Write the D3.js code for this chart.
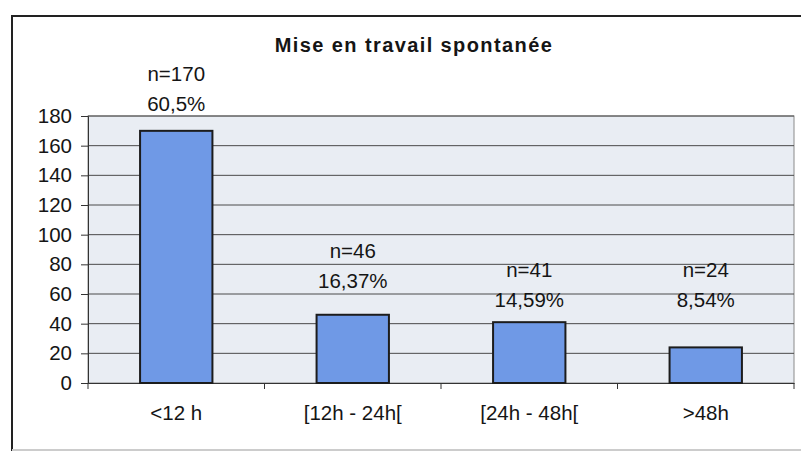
<!DOCTYPE html>
<html>
<head>
<meta charset="utf-8">
<script src="https://cdn.jsdelivr.net/npm/d3@7"></script>
<style>
  body { margin: 0; background: #fff; }
  text { font-family: "Liberation Sans", Arial, sans-serif; fill: #151515; }
</style>
</head>
<body>
<div id="chart"></div>
<script>
var categories = ["<12 h", "[12h - 24h[", "[24h - 48h[", ">48h"];
var counts = [170, 46, 41, 24];
var percents = ["60,5%", "16,37%", "14,59%", "8,54%"];
var yTicks = [0, 20, 40, 60, 80, 100, 120, 140, 160, 180];

// where each label pair sits, in axis units (hand placed in the original)
var labelLevels = [188, 69, 56, 56];

var width = 801, height = 453;
var plot = { left: 88, right: 794, top: 116, bottom: 383 };

var svg = d3.select("#chart").append("svg")
    .attr("width", width)
    .attr("height", height);

// outer frame
svg.append("rect")
    .attr("x", 12).attr("y", 16)
    .attr("width", 800).attr("height", 434)
    .attr("fill", "#fff")
    .attr("stroke", "#222")
    .attr("stroke-width", 2);
svg.append("line")
    .attr("x1", 12).attr("x2", width)
    .attr("y1", 450).attr("y2", 450)
    .attr("stroke", "#fff").attr("stroke-width", 2);
svg.append("line")
    .attr("x1", 12).attr("x2", width)
    .attr("y1", 450).attr("y2", 450)
    .attr("stroke", "#999").attr("stroke-width", 1);

var x = d3.scaleBand()
    .domain(categories)
    .range([plot.left, plot.right])
    .paddingInner(0.59)
    .paddingOuter(0.295);

var xCat = d3.scaleBand()
    .domain(categories)
    .range([plot.left, plot.right]);

var y = d3.scaleLinear()
    .domain([0, 180])
    .range([plot.bottom, plot.top]);

// plot background
svg.append("rect")
    .attr("x", plot.left).attr("y", plot.top)
    .attr("width", plot.right - plot.left)
    .attr("height", plot.bottom - plot.top)
    .attr("fill", "#e9edf3")
    .attr("stroke", "#8a8a8a")
    .attr("stroke-width", 1);

// gridlines
svg.append("g")
    .selectAll("line")
    .data(yTicks.filter(d => d > 0))
    .enter().append("line")
    .attr("x1", plot.left).attr("x2", plot.right)
    .attr("y1", d => y(d)).attr("y2", d => y(d))
    .attr("stroke", "#4a4a4a")
    .attr("stroke-width", 1);

// y axis
var yAxis = svg.append("g")
    .attr("transform", "translate(" + plot.left + ",0)")
    .call(d3.axisLeft(y).tickValues(yTicks).tickSize(7).tickPadding(9));
yAxis.select(".domain").attr("stroke", "#333");
yAxis.selectAll(".tick line").attr("stroke", "#333");
yAxis.selectAll("text")
    .style("font-size", "20.5px")
    .attr("fill", "#151515");

// x axis
var xAxis = svg.append("g")
    .attr("transform", "translate(0," + plot.bottom + ")")
    .call(d3.axisBottom(xCat).tickSize(0).tickPadding(22));
xAxis.select(".domain").attr("stroke", "#333");
xAxis.selectAll("text")
    .style("font-size", "20.5px")
    .attr("fill", "#151515");

// category boundary ticks
svg.append("g")
    .selectAll("line")
    .data(categories.concat(["end"]))
    .enter().append("line")
    .attr("x1", (d, i) => i < categories.length ? xCat(d) : plot.right)
    .attr("x2", (d, i) => i < categories.length ? xCat(d) : plot.right)
    .attr("y1", plot.bottom).attr("y2", plot.bottom + 6)
    .attr("stroke", "#333");

// bars
svg.append("g")
    .selectAll("rect")
    .data(counts)
    .enter().append("rect")
    .attr("x", (d, i) => x(categories[i]))
    .attr("y", d => y(d))
    .attr("width", x.bandwidth())
    .attr("height", d => y(0) - y(d))
    .attr("fill", "#6f99e6")
    .attr("stroke", "#1c1c1c")
    .attr("stroke-width", 2);

// data labels
var labels = svg.append("g")
    .selectAll("g")
    .data(counts)
    .enter().append("g")
    .attr("transform", (d, i) => "translate(" + (xCat(categories[i]) + xCat.bandwidth() / 2) + "," + y(labelLevels[i]) + ")");

labels.append("text")
    .attr("text-anchor", "middle")
    .attr("y", -23)
    .style("font-size", "20.5px")
    .text(d => "n=" + d);

labels.append("text")
    .attr("text-anchor", "middle")
    .attr("y", 7)
    .style("font-size", "20.5px")
    .text((d, i) => percents[i]);

// title
svg.append("text")
    .attr("x", 414)
    .attr("y", 52)
    .attr("text-anchor", "middle")
    .style("font-size", "20px")
    .style("font-weight", "bold")
    .style("letter-spacing", "1.4px")
    .attr("fill", "#222")
    .text("Mise en travail spontanée");
</script>
</body>
</html>
